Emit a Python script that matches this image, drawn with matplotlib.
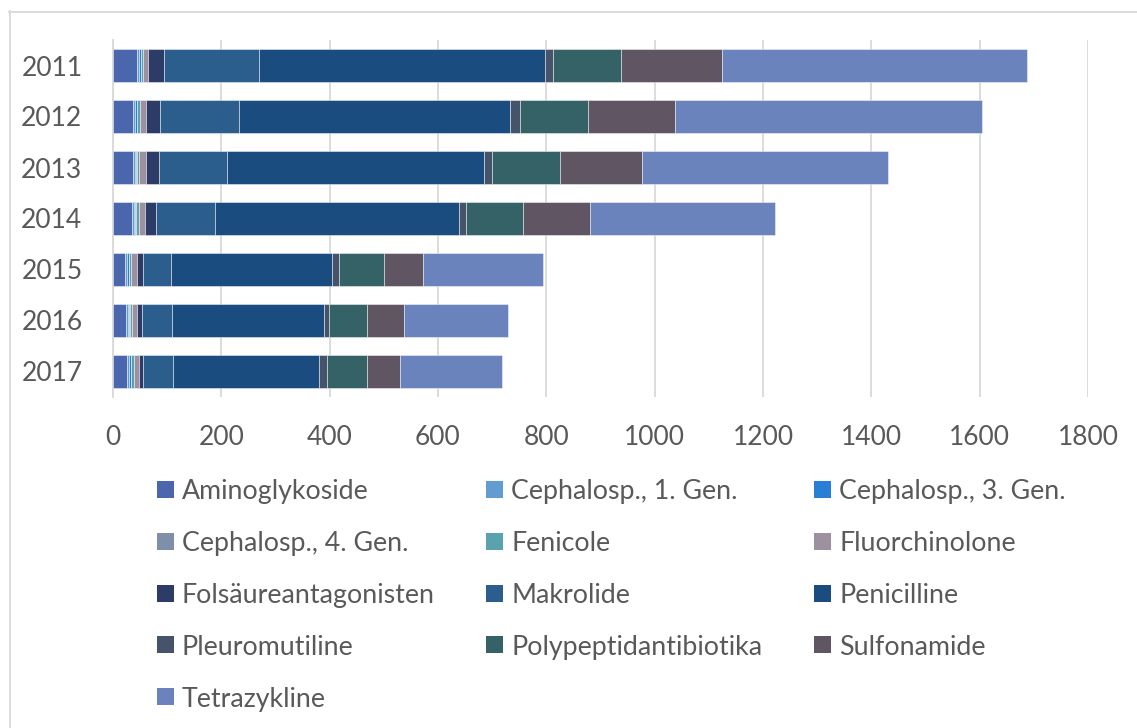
import matplotlib
matplotlib.use("Agg")
import matplotlib.pyplot as plt
from matplotlib.patches import Rectangle
from matplotlib.lines import Line2D
import numpy as np

years = ["2011", "2012", "2013", "2014", "2015", "2016", "2017"]
classes = ["Aminoglykoside", "Cephalosp., 1. Gen.", "Cephalosp., 3. Gen.",
           "Cephalosp., 4. Gen.", "Fenicole", "Fluorchinolone",
           "Folsäureantagonisten", "Makrolide", "Penicilline",
           "Pleuromutiline", "Polypeptidantibiotika", "Sulfonamide",
           "Tetrazykline"]
colors = ["#4A66AC", "#629DD1", "#297FD5", "#7F8FA9", "#5AA2AE", "#9D90A0",
          "#2C3C66", "#2B5E8C", "#1B4C80", "#45546A", "#346266", "#605563",
          "#6B83BD"]

aminoglykoside = [45, 37.5, 37.5, 35.7, 22.8, 24.6, 26.5]
ceph1 = [3.7, 3.7, 3, 3, 3.7, 3.7, 3.7]
ceph3 = [2.5, 2.5, 2, 2.5, 2.5, 1.8, 2.5]
ceph4 = [1, 1, 1, 1, 1, 1, 1]
fenicole = [4, 5.8, 5, 5, 4, 4, 5]
fluorchinolone = [8.6, 10.5, 12.3, 12.3, 11, 9.8, 9.8]
folsaeure = [30, 25, 23.4, 19, 9.8, 9.2, 7.4]
makrolide = [175, 146.6, 126, 109.6, 52.4, 54.8, 55.4]
penicilline = [527, 501, 474, 450, 298, 280, 269.6]
pleuromutiline = [14.8, 18.5, 14.8, 13.6, 11.8, 10, 13.5]
polypeptid = [127, 124, 125.5, 106, 82.4, 69.4, 73.8]
sulfonamide = [185, 162, 152.6, 122, 72, 68.3, 61.7]
tetrazykline = [564, 567, 454, 343, 222, 193, 187.6]

series = [aminoglykoside, ceph1, ceph3, ceph4, fenicole, fluorchinolone,
          folsaeure, makrolide, penicilline, pleuromutiline, polypeptid,
          sulfonamide, tetrazykline]

W, H = 1137, 728
plt.rcParams['font.family'] = ['Lato', 'DejaVu Sans']
fig = plt.figure(figsize=(W / 100, H / 100), dpi=100)
fig.patch.set_facecolor("white")

ax = fig.add_axes([113 / W, 1 - 397 / H, (1088 - 113) / W, (397 - 40) / H])
y = np.arange(len(years))
left = np.zeros(len(years))
for name, vals, c in zip(classes, series, colors):
    v = np.array(vals, dtype=float)
    ax.barh(y, v, left=left, height=0.66, color=c,
            edgecolor=(1, 1, 1, 0.45), linewidth=0.7, zorder=3)
    left += v

ax.set_xlim(0, 1800)
ax.set_ylim(len(years) - 0.5, -0.5)
ax.set_xticks(np.arange(0, 1801, 200))
ax.set_yticks(y)
ax.set_yticklabels(years)
ax.grid(axis="x", color="#D9D9D9", linewidth=1.3, zorder=0)
ax.grid(axis="y", visible=False)
for s in ["top", "right", "bottom"]:
    ax.spines[s].set_visible(False)
ax.spines["left"].set_color("#D9D9D9")
ax.spines["left"].set_linewidth(1.3)
ax.tick_params(axis="both", length=0, labelsize=19, labelcolor="#595959")
ax.tick_params(axis="x", pad=20)
ax.tick_params(axis="y", pad=22)

# legend (row-major, 3 columns)
col_x = [157, 486, 814]
row_y0 = 489.5
row_dy = 51.8
sq = 17
for i, (name, c) in enumerate(zip(classes, colors)):
    r, col = divmod(i, 3)
    cx = col_x[col]
    cy = row_y0 + r * row_dy
    fig.patches.append(Rectangle((cx / W, 1 - (cy + sq / 2) / H), sq / W, sq / H,
                                 transform=fig.transFigure, facecolor=c,
                                 edgecolor="none"))
    fig.text((cx + 25) / W, 1 - cy / H, name, fontsize=19.3, color="#595959",
             va="center_baseline", ha="left")

# chart border (left and top visible)
fig.add_artist(Line2D([9.5 / W, 9.5 / W], [0, 1 - 11 / H],
                      transform=fig.transFigure, color="#D9D9D9", linewidth=1.3))
fig.add_artist(Line2D([9 / W, 1], [1 - 11.5 / H, 1 - 11.5 / H],
                      transform=fig.transFigure, color="#D9D9D9", linewidth=1.3))

fig.savefig("out.png", dpi=100)
